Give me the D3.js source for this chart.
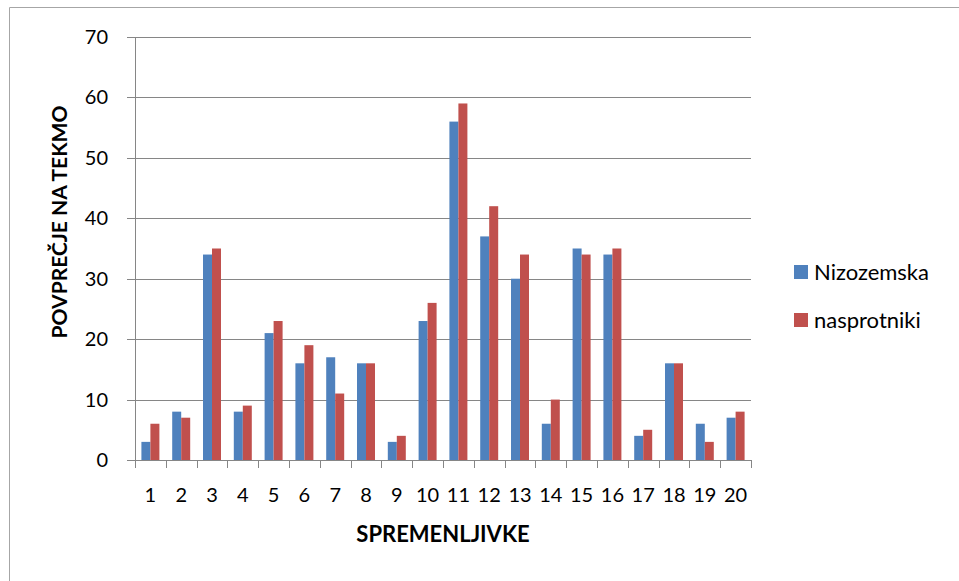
<!DOCTYPE html>
<html>
<head>
<meta charset="utf-8">
<script src="https://cdn.jsdelivr.net/npm/d3@7"></script>
<style>
  html, body { margin: 0; padding: 0; background: #fff; }
  svg { display: block; font-family: Lato, "Open Sans", sans-serif; }
</style>
</head>
<body>
<svg id="chart" width="959" height="581"></svg>
<script>
const categories = ["1","2","3","4","5","6","7","8","9","10","11","12","13","14","15","16","17","18","19","20"];
const seriesNames = ["Nizozemska", "nasprotniki"];
const nizozemska = [3, 8, 34, 8, 21, 16, 17, 16, 3, 23, 56, 37, 30, 6, 35, 34, 4, 16, 6, 7];
const nasprotniki = [6, 7, 35, 9, 23, 19, 11, 16, 4, 26, 59, 42, 34, 10, 34, 35, 5, 16, 3, 8];
const yTicks = [0, 10, 20, 30, 40, 50, 60, 70];
const colors = ["#4F81BD", "#C0504D"];
const xTitle = "SPREMENLJIVKE";
const yTitle = "POVPREČJE NA TEKMO";

const svg = d3.select("#chart");
const L = 135, R = 751, T = 37, B = 460;
const gridColor = "#868686";

// outer frame (left and top edges visible)
svg.append("line").attr("x1", 9.5).attr("x2", 9.5).attr("y1", 7.5).attr("y2", 581).attr("stroke", "#a6a6a6");
svg.append("line").attr("x1", 9.5).attr("x2", 959).attr("y1", 7.5).attr("y2", 7.5).attr("stroke", "#a6a6a6");

const x = d3.scaleBand().domain(categories).range([L, R]).paddingInner(0.416).paddingOuter(0.208);
const xs = d3.scaleBand().domain(seriesNames).range([0, x.bandwidth()]);
const y = d3.scaleLinear().domain([0, 70]).range([B, T]);

// gridlines
svg.append("g").selectAll("line").data(yTicks).join("line")
  .attr("x1", L - 8).attr("x2", R)
  .attr("y1", d => Math.round(y(d)) + 0.5).attr("y2", d => Math.round(y(d)) + 0.5)
  .attr("stroke", gridColor).attr("stroke-width", 1);

// y axis line
svg.append("line").attr("x1", L + 0.5).attr("x2", L + 0.5).attr("y1", T).attr("y2", B + 1)
  .attr("stroke", gridColor);

// y tick labels
svg.append("g").selectAll("text").data(yTicks).join("text")
  .attr("x", 108).attr("y", d => y(d)).attr("dy", "0.35em")
  .attr("text-anchor", "end").attr("font-size", 20).attr("fill", "#000")
  .text(d => d);

// x tick marks at category boundaries
const bounds = categories.map(c => x(c) - x.step() * x.paddingInner() / 2);
bounds.push(R);
svg.append("g").selectAll("line").data(bounds).join("line")
  .attr("x1", d => Math.round(d) + 0.5).attr("x2", d => Math.round(d) + 0.5)
  .attr("y1", B).attr("y2", B + 8)
  .attr("stroke", gridColor);

// bars
const data = categories.map((c, i) => ({ c, vals: [nizozemska[i], nasprotniki[i]] }));
const groups = svg.append("g").selectAll("g").data(data).join("g")
  .attr("transform", d => `translate(${x(d.c)},0)`);
groups.selectAll("rect").data(d => d.vals.map((v, j) => ({ v, s: seriesNames[j], j })))
  .join("rect")
  .attr("x", d => xs(d.s)).attr("width", xs.bandwidth())
  .attr("y", d => y(d.v)).attr("height", d => B - y(d.v))
  .attr("fill", d => colors[d.j]);

// x axis line
svg.append("line").attr("x1", L - 8).attr("x2", R + 0.5).attr("y1", B + 0.5).attr("y2", B + 0.5)
  .attr("stroke", gridColor);

// x tick labels
svg.append("g").selectAll("text").data(categories).join("text")
  .attr("x", d => x(d) + x.bandwidth() / 2).attr("y", 502)
  .attr("text-anchor", "middle").attr("font-size", 20).attr("fill", "#000")
  .text(d => d);

// axis titles
svg.append("text").attr("x", 443).attr("y", 542).attr("text-anchor", "middle")
  .attr("font-size", 22).attr("font-weight", "bold").text(xTitle);
svg.append("text").attr("transform", "translate(67,222) rotate(-90)").attr("text-anchor", "middle")
  .attr("font-size", 21).attr("font-weight", "bold").text(yTitle);

// legend
const lg = svg.append("g").selectAll("g").data(seriesNames).join("g")
  .attr("transform", (d, i) => `translate(794, ${265 + i * 48})`);
lg.append("rect").attr("width", 14).attr("height", 14).attr("fill", (d, i) => colors[i]);
lg.append("text").attr("x", 20).attr("y", 7).attr("dy", "0.35em")
  .attr("font-size", 22).attr("fill", "#000").text(d => d);
</script>
</body>
</html>
